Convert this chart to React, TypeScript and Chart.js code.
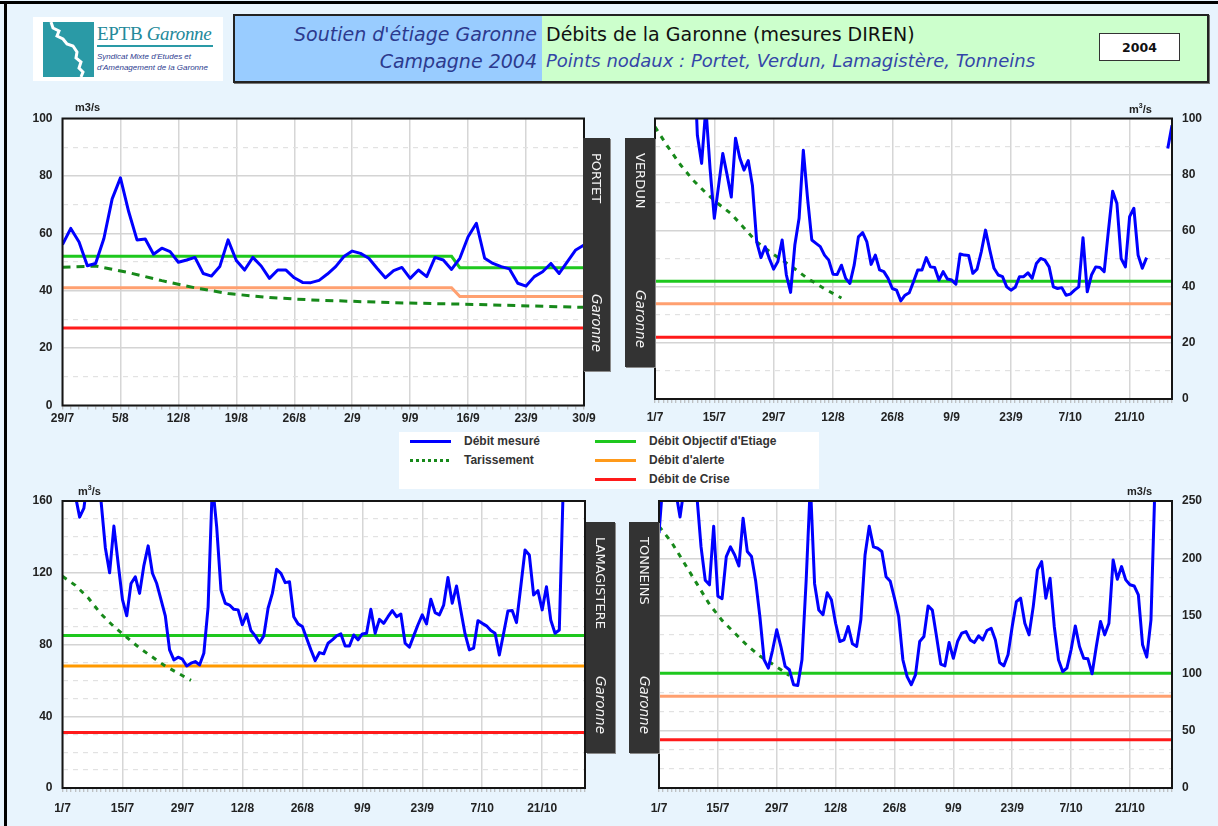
import React, { useEffect, useRef } from "react";
import { Chart, registerables } from "chart.js";

Chart.register(...registerables);

// ---------------- DATA ----------------
// PORTET : 29/7 -> 30/9 (daily, day index 0..63)
const portetTickLabels = ["29/7", "5/8", "12/8", "19/8", "26/8", "2/9", "9/9", "16/9", "23/9", "30/9"];
const portetFlow = [
  56.1, 61.7, 57, 48.7, 49.5, 58.2, 72, 79.3, 67.5, 57.7,
  58, 52.7, 54.8, 53.6, 49.9, 50.7, 51.6, 46, 45.1, 48.4,
  57.7, 50.5, 47.2, 51.6, 48.6, 44.3, 47.2, 47.2, 44.5, 42.9,
  42.8, 43.6, 45.8, 48.4, 51.9, 53.8, 53, 51.3, 47.8, 44.5,
  47, 48.1, 44.3, 47.2, 44.9, 51.6, 50.7, 47.4, 51.3, 58.8,
  63.5, 51.3, 49.5, 48.4, 47.6, 42.6, 41.6, 44.9, 46.6, 49.5,
  46, 50.1, 54.2, 55.9,
];
const portetDoeDays = [0, 47, 48, 63];
const portetDoe = [52, 52, 48, 48];
const portetAlertDays = [0, 47, 48, 63];
const portetAlert = [41, 41, 38, 38];
const portetCrisis = 27;
const portetDrainDays = [0, 4, 8, 12, 16, 20, 25, 30, 40, 50, 63];
const portetDrain = [48.2, 48.6, 46.3, 43.5, 41, 39, 37.6, 36.8, 35.8, 35.2, 34.2];

// 1/7 -> 31/10 (daily, day index 0..122) for the three other stations
const seasonTickLabels = ["1/7", "15/7", "29/7", "12/8", "26/8", "9/9", "23/9", "7/10", "21/10"];

const verdunFlow = [
  null, null, null, null, null, null, null, null, null, 130,
  94, 84, 104, 82, 64.4, 76, 87.5, 80, 72, 93,
  86, 81.6, 85, 76, 56, 50.4, 54.3, 50, 46.3, 49,
  56.7, 44.2, 38, 54.9, 64.4, 88.7, 71.5, 56.7, 55.5, 54.3,
  51.3, 49.5, 44.5, 44.4, 47.7, 43, 41.2, 47.7, 57.8, 59.3,
  56, 48, 51.3, 46, 45.4, 43, 39.4, 38.8, 35, 37,
  37.9, 41.8, 46, 46, 50.4, 47.1, 46.9, 42.4, 45.4, 42.8,
  42.4, 40.9, 51.7, 51.3, 51.2, 44.8, 46.3, 52.5, 60.2, 53.1,
  46.6, 44.2, 43.6, 40, 38.8, 39.8, 43.6, 43.6, 45, 43,
  48.3, 50.1, 49.5, 47.1, 40, 39.4, 39.7, 37, 37.4, 38.8,
  40, 57.5, 38.2, 44.2, 47.1, 46.9, 45.4, 60, 74.1, 69.7,
  50.1, 47.1, 65, 68, 51.3, 46.6, 50.4, null, null, null,
  null, 89.3, 97.6,
];
const verdunDoe = 42;
const verdunAlert = 34;
const verdunCrisis = 22;
const verdunDrainDays = [0, 3, 6, 9, 12, 15, 18, 21, 24, 28, 32, 36, 40, 44];
const verdunDrain = [97, 90, 83.5, 78, 73.5, 69.5, 66, 61, 56, 51.5, 47.5, 43, 39.3, 36];

const lamaFlow = [
  null, null, null, 163, 151, 156, 175, 180, 175, 160,
  134, 120, 146, 125, 105, 96, 114, 117.7, 108.5, 124,
  135, 119.7, 114, 105, 96, 77, 71.4, 72.9, 71.8, 68,
  69.6, 70.5, 68.6, 75.1, 101, 170, 145.6, 110.4, 103, 102,
  99.6, 99.3, 91, 97, 87.8, 84.8, 81, 84.8, 100.2, 108.5,
  121.9, 119.7, 114.5, 115, 95.5, 91.5, 90, 83.5, 77, 71,
  75.5, 74.8, 80.7, 82.6, 84.8, 85.9, 79.2, 79.2, 85.3, 82.6,
  85.9, 86.3, 99.6, 86.3, 94, 91.8, 95.5, 98.9, 95.5, 97,
  80.7, 78.5, 84.8, 91, 96.5, 91.5, 105.2, 97.8, 96.5, 102,
  117.4, 103, 112.6, 98.9, 85.9, 77, 78, 93.3, 91.8, 90.4,
  87.8, 86.3, 74.2, 86.3, 98.7, 98.9, 92.2, 112.2, 132.7, 129.9,
  107.6, 110, 99.3, 112.2, 93.7, 86.3, 88.1, 175, null, null,
  null, null, null,
];
const lamaDoe = 85;
const lamaAlert = 68;
const lamaCrisis = 31;
const lamaDrainDays = [0, 3, 6, 9, 12, 15, 18, 21, 24, 27, 30];
const lamaDrain = [118, 113, 106, 97, 90, 84, 78, 73, 68, 64, 60];

const tonFlow = [
  222, 270, 275, 265, 258, 236, 262, 280, 275, 255,
  210, 181, 177, 228, 167, 165, 201.6, 210, 203, 193.4,
  235, 206, 201.6, 180, 149, 111.7, 104.4, 120, 137.8, 123,
  106, 103, 90, 89.3, 111.7, 181, 265, 178, 155, 151,
  170, 164, 143.5, 127.6, 129, 140.7, 125.6, 123.3, 146.5, 203,
  228, 210, 208.8, 206, 184, 180, 165.3, 149.4, 111.7, 97,
  90, 98.6, 127.6, 132, 158.6, 155, 132, 108, 106.4, 126.7,
  113, 127.6, 134.9, 136.3, 129, 126.7, 132.5, 129, 137.2, 139.2,
  129, 109.3, 106.4, 116, 140.7, 162.4, 165.3, 143.5, 133.4, 158,
  190, 197.2, 165.3, 182.7, 140.7, 111.7, 101.5, 104.4, 120.4, 141.2,
  123.3, 113, 112.5, 99.5, 123.3, 145, 133.4, 143.5, 198.7, 181.8,
  192.9, 181.3, 177, 176, 168.2, 124.7, 114, 146.5, 270, null,
  null, null, null,
];
const tonDoe = 100;
const tonAlert = 80;
const tonCrisis = 42;
const tonDrainDays = [0, 3, 6, 9, 12, 15, 18, 21, 24, 27, 31];
const tonDrain = [228, 214, 196, 178, 160, 146, 135, 124, 115, 108, 98];

// ---------------- STYLE ----------------
const TICK_FONT = '"Liberation Sans", Arial, sans-serif';
const TITLE_FONT = '"DejaVu Sans", Verdana, sans-serif';
const BLUE = "#0000ff";
const GREEN = "#1ec81e";
const RED = "#ff1a1a";
const DRAIN = "#17891a";

type Pt = { x: number; y: number | null };
const byDay = (vals: (number | null)[]): Pt[] => vals.map((v, i) => ({ x: i, y: v }));
const pairs = (days: number[], vals: number[]): Pt[] => days.map((d, i) => ({ x: d, y: vals[i] }));
const flat = (v: number, maxDay: number): Pt[] => [{ x: 0, y: v }, { x: maxDay, y: v }];

interface Spec {
  canvas: { left: number; top: number; width: number; height: number };
  plot: { left: number; top: number; right: number; bottom: number };
  yPos: "left" | "right";
  yWidth: number;
  xHeight: number;
  xLabelPad: number;
  xMax: number;
  tickLabels: string[];
  tickStep: number;
  yMax: number;
  yMajor: number;
  yMinorCount: number;
  flow: Pt[];
  doe: Pt[];
  alert: Pt[];
  crisis: Pt[];
  drain: Pt[];
  alertColor: string;
  drainDash: number[];
}

const framePlugin = {
  id: "frame",
  beforeDraw(chart: any) {
    const { ctx, chartArea: a } = chart;
    ctx.save();
    ctx.fillStyle = "#ffffff";
    ctx.fillRect(a.left, a.top, a.right - a.left, a.bottom - a.top);
    ctx.restore();
  },
  afterDraw(chart: any) {
    const { ctx, chartArea: a } = chart;
    ctx.save();
    ctx.strokeStyle = "#151515";
    ctx.lineWidth = 2;
    ctx.strokeRect(a.left, a.top, a.right - a.left, a.bottom - a.top);
    ctx.restore();
  },
};

function buildConfig(s: Spec): any {
  const c = s.canvas;
  const p = s.plot;
  const padTop = p.top - c.top;
  const padBottom = c.top + c.height - p.bottom - s.xHeight;
  let padLeft: number, padRight: number;
  if (s.yPos === "left") {
    padLeft = p.left - c.left - s.yWidth;
    padRight = c.left + c.width - p.right;
  } else {
    padLeft = p.left - c.left;
    padRight = c.left + c.width - p.right - s.yWidth;
  }
  const isXMajor = (v: number) => v % s.tickStep === 0 && v / s.tickStep < s.tickLabels.length;
  const yStep = s.yMajor / s.yMinorCount;
  const isYMajor = (v: number) => Math.abs(v / s.yMajor - Math.round(v / s.yMajor)) < 1e-6;
  const line = (data: Pt[], color: string, extra: any = {}) => ({
    data,
    borderColor: color,
    borderWidth: 3,
    pointRadius: 0,
    tension: 0,
    fill: false,
    spanGaps: false,
    ...extra,
  });
  return {
    type: "line",
    data: {
      datasets: [
        line(s.flow, BLUE, { borderJoinStyle: "round" }),
        line(s.drain, DRAIN, { borderDash: s.drainDash, borderWidth: 3 }),
        line(s.doe, GREEN),
        line(s.alert, s.alertColor),
        line(s.crisis, RED),
      ],
    },
    options: {
      responsive: false,
      animation: false,
      devicePixelRatio: 1,
      layout: { padding: { left: padLeft, right: padRight, top: padTop, bottom: padBottom } },
      plugins: { legend: { display: false }, tooltip: { enabled: false } },
      scales: {
        x: {
          type: "linear",
          min: 0,
          max: s.xMax,
          afterBuildTicks: (scale: any) => {
            const t = [];
            for (let d = 0; d <= s.xMax; d++) t.push({ value: d });
            scale.ticks = t;
          },
          afterFit: (scale: any) => {
            scale.height = s.xHeight;
          },
          ticks: {
            autoSkip: false,
            maxRotation: 0,
            minRotation: 0,
            padding: s.xLabelPad,
            color: "#222",
            font: { family: TICK_FONT, size: 12, weight: "bold" },
            callback: (v: number) => (isXMajor(v) ? s.tickLabels[v / s.tickStep] : ""),
          },
          grid: {
            color: (ctx: any) => (ctx.tick && isXMajor(ctx.tick.value) ? "#d6d6d6" : "rgba(0,0,0,0)"),
            lineWidth: 1.5,
            drawTicks: true,
            tickLength: 4,
            tickColor: "#b0b0b0",
            tickWidth: 1,
          },
          border: { display: false },
        },
        y: {
          type: "linear",
          position: s.yPos,
          min: 0,
          max: s.yMax,
          afterBuildTicks: (scale: any) => {
            const n = Math.round(s.yMax / yStep);
            const t = [];
            for (let i = 0; i <= n; i++) t.push({ value: i * yStep });
            scale.ticks = t;
          },
          afterFit: (scale: any) => {
            scale.width = s.yWidth;
          },
          ticks: {
            padding: 10,
            color: "#222",
            font: { family: TICK_FONT, size: 12, weight: "bold" },
            callback: (v: number) => (isYMajor(v) ? String(Math.round(v)) : ""),
          },
          grid: {
            color: (ctx: any) => (ctx.tick && isYMajor(ctx.tick.value) ? "#d4d4d4" : "#e2e2e2"),
            lineWidth: (ctx: any) => (ctx.tick && isYMajor(ctx.tick.value) ? 1.5 : 1.2),
            drawTicks: false,
          },
          border: {
            display: false,
            dash: (ctx: any) => (ctx.tick && !isYMajor(ctx.tick.value) ? [5, 5] : []),
          },
        },
      },
    },
    plugins: [framePlugin],
  };
}

const specs: Spec[] = [
  {
    canvas: { left: 0, top: 100, width: 620, height: 332 },
    plot: { left: 62.5, top: 118.5, right: 584, bottom: 405.5 },
    yPos: "left",
    yWidth: 50,
    xHeight: 25,
    xLabelPad: 2,
    xMax: 63,
    tickLabels: portetTickLabels,
    tickStep: 7,
    yMax: 100,
    yMajor: 20,
    yMinorCount: 2,
    flow: byDay(portetFlow),
    doe: pairs(portetDoeDays, portetDoe),
    alert: pairs(portetAlertDays, portetAlert),
    crisis: flat(portetCrisis, 63),
    drain: pairs(portetDrainDays, portetDrain),
    alertColor: "#ffa070",
    drainDash: [8, 6],
  },
  {
    canvas: { left: 620, top: 100, width: 598, height: 330 },
    plot: { left: 655, top: 118.5, right: 1172, bottom: 399 },
    yPos: "right",
    yWidth: 40,
    xHeight: 25,
    xLabelPad: 7,
    xMax: 122,
    tickLabels: seasonTickLabels,
    tickStep: 14,
    yMax: 100,
    yMajor: 20,
    yMinorCount: 2,
    flow: byDay(verdunFlow),
    doe: flat(verdunDoe, 122),
    alert: flat(verdunAlert, 122),
    crisis: flat(verdunCrisis, 122),
    drain: pairs(verdunDrainDays, verdunDrain),
    alertColor: "#ffa070",
    drainDash: [5, 6],
  },
  {
    canvas: { left: 0, top: 480, width: 620, height: 346 },
    plot: { left: 62.5, top: 501, right: 585, bottom: 788 },
    yPos: "left",
    yWidth: 50,
    xHeight: 30,
    xLabelPad: 9,
    xMax: 122,
    tickLabels: seasonTickLabels,
    tickStep: 14,
    yMax: 160,
    yMajor: 40,
    yMinorCount: 4,
    flow: byDay(lamaFlow),
    doe: flat(lamaDoe, 122),
    alert: flat(lamaAlert, 122),
    crisis: flat(lamaCrisis, 122),
    drain: pairs(lamaDrainDays, lamaDrain),
    alertColor: "#ff9900",
    drainDash: [5, 6],
  },
  {
    canvas: { left: 620, top: 480, width: 598, height: 346 },
    plot: { left: 659, top: 501, right: 1172, bottom: 788 },
    yPos: "right",
    yWidth: 40,
    xHeight: 30,
    xLabelPad: 9,
    xMax: 122,
    tickLabels: seasonTickLabels,
    tickStep: 14,
    yMax: 250,
    yMajor: 50,
    yMinorCount: 3,
    flow: byDay(tonFlow),
    doe: flat(tonDoe, 122),
    alert: flat(tonAlert, 122),
    crisis: flat(tonCrisis, 122),
    drain: pairs(tonDrainDays, tonDrain),
    alertColor: "#ffa070",
    drainDash: [5, 6],
  },
];

// ---------------- COMPONENTS ----------------
function Panel({ spec }: { spec: Spec }) {
  const ref = useRef<HTMLCanvasElement>(null);
  useEffect(() => {
    const chart = new Chart(ref.current as HTMLCanvasElement, buildConfig(spec));
    return () => chart.destroy();
  }, [spec]);
  const c = spec.canvas;
  return (
    <canvas
      ref={ref}
      width={c.width}
      height={c.height}
      style={{ position: "absolute", left: c.left, top: c.top, width: c.width, height: c.height }}
    />
  );
}

function SideLabel({ left, top, width, height, name }: { left: number; top: number; width: number; height: number; name: string }) {
  return (
    <div
      style={{
        position: "absolute",
        left,
        top,
        width,
        height,
        background: "#333333",
        boxShadow: "1px 1px 0 #8a8a8a",
        display: "flex",
        flexDirection: "column",
        alignItems: "center",
        justifyContent: "space-between",
        padding: "15px 0 19px",
        boxSizing: "border-box",
        color: "#f4f4f4",
      }}
    >
      <div style={{ writingMode: "vertical-rl", font: `13px ${TITLE_FONT}`, lineHeight: "15px" }}>{name}</div>
      <div style={{ writingMode: "vertical-rl", font: `italic 13.5px ${TITLE_FONT}`, lineHeight: "15px" }}>Garonne</div>
    </div>
  );
}

function Unit({ left, top, sup }: { left: number; top: number; sup: boolean }) {
  return (
    <div style={{ position: "absolute", left, top, font: `bold 11px ${TICK_FONT}`, color: "#222", whiteSpace: "nowrap" }}>
      {sup ? (
        <span>
          m<sup style={{ fontSize: 7 }}>3</sup>/s
        </span>
      ) : (
        "m3/s"
      )}
    </div>
  );
}

function LegendItem({ x, y, color, dotted, label }: { x: number; y: number; color: string; dotted?: boolean; label: string }) {
  return (
    <>
      <div
        style={{
          position: "absolute",
          left: x,
          top: y - 1.5,
          width: 41,
          height: 3,
          background: dotted
            ? `repeating-linear-gradient(90deg, ${color} 0px, ${color} 3px, transparent 3px, transparent 6px)`
            : color,
        }}
      />
      <div
        style={{
          position: "absolute",
          left: x + 54,
          top: y - 8,
          font: `bold 12px ${TICK_FONT}`,
          color: "#333",
          whiteSpace: "nowrap",
          lineHeight: "16px",
        }}
      >
        {label}
      </div>
    </>
  );
}

export default function App() {
  return (
    <div
      style={{
        position: "absolute",
        left: 0,
        top: 0,
        width: 1218,
        height: 826,
        overflow: "hidden",
        background: "#e8f4fd",
        fontFamily: TITLE_FONT,
      }}
    >
      {/* page border */}
      <div style={{ position: "absolute", left: 0, top: 1, width: 1218, height: 3, background: "#000" }} />
      <div style={{ position: "absolute", left: 4, top: 1, width: 3, height: 826, background: "#000" }} />

      {/* logo */}
      <div style={{ position: "absolute", left: 33, top: 17, width: 190, height: 64, background: "#fff" }}>
        <div style={{ position: "absolute", left: 10, top: 5, width: 51, height: 55, background: "#2a9aa6" }}>
          <svg width="51" height="55" style={{ position: "absolute", left: 0, top: 0 }}>
            <polygon
              points="0,0 8,0 10,6 16,9 14,14 20,17 24,22 30,24 34,30 33,36 38,40 36,46 40,50 38,55 0,55"
              fill="none"
            />
            <polyline
              points="8,0 10,6 16,9 14,14 20,17 24,22 30,24 34,30 33,36 38,40 36,46 40,50 38,55"
              fill="none"
              stroke="#fff"
              strokeWidth="3"
            />
          </svg>
        </div>
        <div
          style={{
            position: "absolute",
            left: 64,
            top: 7,
            font: '19px "Liberation Serif", "DejaVu Serif", serif',
            color: "#23899a",
            whiteSpace: "nowrap",
            letterSpacing: "-0.3px",
            lineHeight: "20px",
          }}
        >
          EPTB <i>Garonne</i>
        </div>
        <div style={{ position: "absolute", left: 64, top: 28, width: 116, height: 2, background: "#2a9aa6" }} />
        <div
          style={{
            position: "absolute",
            left: 64,
            top: 34,
            font: 'italic 8px "Liberation Sans", sans-serif',
            color: "#2d3d8f",
            lineHeight: "11px",
            whiteSpace: "nowrap",
          }}
        >
          Syndicat Mixte d'Etudes et
          <br />
          d'Aménagement de la Garonne
        </div>
      </div>

      {/* header */}
      <div
        style={{
          position: "absolute",
          left: 233,
          top: 14,
          width: 976,
          height: 69,
          boxSizing: "border-box",
          border: "2px solid #222",
          background: "#ccffcc",
          boxShadow: "1px 1px 0 #777",
        }}
      >
        <div style={{ position: "absolute", left: 0, top: 0, width: 307, height: 65, background: "#99ccff" }} />
        <div
          style={{
            position: "absolute",
            right: 670,
            top: 7,
            font: `italic 19px ${TITLE_FONT}`,
            color: "#2c3a8e",
            whiteSpace: "nowrap",
            lineHeight: "22px",
          }}
        >
          Soutien d'étiage Garonne
        </div>
        <div
          style={{
            position: "absolute",
            right: 670,
            top: 34,
            font: `italic 19px ${TITLE_FONT}`,
            color: "#2c3a8e",
            whiteSpace: "nowrap",
            lineHeight: "22px",
          }}
        >
          Campagne 2004
        </div>
        <div
          style={{
            position: "absolute",
            left: 311,
            top: 7,
            font: `19px ${TITLE_FONT}`,
            color: "#111",
            whiteSpace: "nowrap",
            lineHeight: "22px",
          }}
        >
          Débits de la Garonne (mesures DIREN)
        </div>
        <div
          style={{
            position: "absolute",
            left: 311,
            top: 34,
            font: `italic 18px ${TITLE_FONT}`,
            color: "#3446a8",
            whiteSpace: "nowrap",
            lineHeight: "22px",
          }}
        >
          Points nodaux : Portet, Verdun, Lamagistère, Tonneins
        </div>
        <div
          style={{
            position: "absolute",
            left: 864,
            top: 17,
            width: 81,
            height: 28,
            boxSizing: "border-box",
            border: "1px solid #333",
            background: "#fff",
            font: `bold 12.5px ${TITLE_FONT}`,
            color: "#111",
            display: "flex",
            alignItems: "center",
            justifyContent: "center",
          }}
        >
          2004
        </div>
      </div>

      {/* charts */}
      {specs.map((s, i) => (
        <Panel key={i} spec={s} />
      ))}

      {/* units */}
      <Unit left={75} top={101} sup={false} />
      <Unit left={1129} top={102} sup={true} />
      <Unit left={78} top={484} sup={true} />
      <Unit left={1127} top={485} sup={false} />

      {/* station labels */}
      <SideLabel left={583} top={138} width={27} height={233} name="PORTET" />
      <SideLabel left={625} top={138} width={30} height={229} name="VERDUN" />
      <SideLabel left={586} top={522} width={29} height={231} name="LAMAGISTERE" />
      <SideLabel left={629} top={522} width={30} height={231} name="TONNEINS" />

      {/* legend */}
      <div style={{ position: "absolute", left: 399, top: 432, width: 420, height: 57, background: "#fff" }} />
      <LegendItem x={410} y={441} color={BLUE} label="Débit mesuré" />
      <LegendItem x={410} y={460} color={DRAIN} dotted label="Tarissement" />
      <LegendItem x={595} y={441} color={GREEN} label="Débit Objectif d'Etiage" />
      <LegendItem x={595} y={460} color="#ff9a1a" label="Débit d'alerte" />
      <LegendItem x={595} y={479} color={RED} label="Débit de Crise" />
    </div>
  );
}
